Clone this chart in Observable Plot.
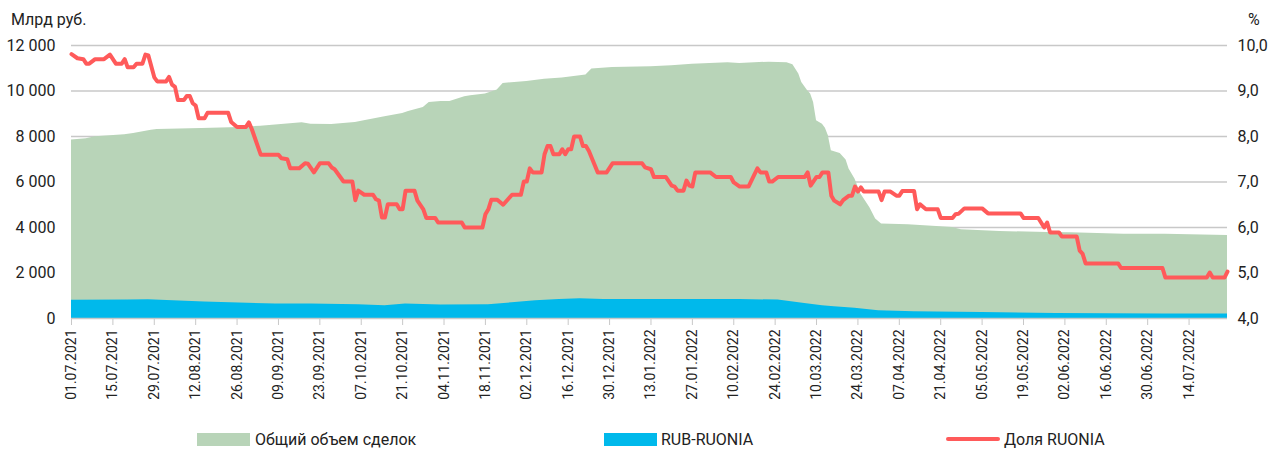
<!DOCTYPE html>
<html><head><meta charset="utf-8">
<script src="https://cdn.jsdelivr.net/npm/d3@7"></script>
<script src="https://cdn.jsdelivr.net/npm/@observablehq/plot@0.6"></script>
<style>
body{margin:0;background:#fff;font-family:Roboto,"DejaVu Sans",sans-serif;color:#222;}
#wrap{position:relative;width:1274px;height:450px;overflow:hidden;}
.ttl{position:absolute;font-size:16px;line-height:18px;white-space:nowrap;}
.leg{position:absolute;top:431px;font-size:16px;line-height:18px;white-space:nowrap;}
.sw{position:absolute;}
</style></head><body><div id="wrap"></div>
<script>
// ---- data ----
const tickLabels = ["01.07.2021","15.07.2021","29.07.2021","12.08.2021","26.08.2021","09.09.2021","23.09.2021","07.10.2021","21.10.2021","04.11.2021","18.11.2021","02.12.2021","16.12.2021","30.12.2021","13.01.2022","27.01.2022","10.02.2022","24.02.2022","10.03.2022","24.03.2022","07.04.2022","21.04.2022","05.05.2022","19.05.2022","02.06.2022","16.06.2022","30.06.2022","14.07.2022"];
const leftTicks = [0, 2000, 4000, 6000, 8000, 10000, 12000];
const rightTicks = [4, 5, 6, 7, 8, 9, 10];
const seriesNames = ["Общий объем сделок", "RUB-RUONIA", "Доля RUONIA"];
const leftUnit = "Млрд руб.";
const rightUnit = "%";
const dateRange = ["2021-07-01", "2022-07-27"];

// Общий объем сделок, млрд руб.
const totalVolume = [
["2021-07-01",7842],["2021-07-06",7900],["2021-07-09",7988],["2021-07-19",8075],["2021-07-22",8133],["2021-07-28",8280],["2021-07-30",8310],
["2021-08-14",8352],["2021-08-27",8396],["2021-09-03",8455],["2021-09-09",8514],["2021-09-17",8600],["2021-09-20",8543],["2021-09-27",8530],
["2021-10-05",8615],["2021-10-08",8690],["2021-10-15",8867],["2021-10-21",9012],["2021-10-23",9100],["2021-10-28",9276],["2021-10-30",9496],
["2021-11-03",9540],["2021-11-06",9540],["2021-11-11",9746],["2021-11-13",9790],["2021-11-18",9864],["2021-11-22",10040],["2021-11-24",10330],
["2021-12-02",10419],["2021-12-08",10522],["2021-12-14",10566],["2021-12-22",10698],["2021-12-24",10962],["2021-12-31",11034],["2022-01-13",11064],
["2022-01-20",11108],["2022-01-27",11181],["2022-02-08",11240],["2022-02-12",11210],["2022-02-22",11269],["2022-02-28",11240],["2022-03-02",11152],
["2022-03-04",10743],["2022-03-05",10375],["2022-03-07",10010],["2022-03-08",9864],["2022-03-09",9496],["2022-03-10",8690],["2022-03-12",8543],
["2022-03-13",8367],["2022-03-14",8031],["2022-03-15",7372],["2022-03-18",7254],["2022-03-20",6963],["2022-03-21",6568],["2022-03-23",6128],
["2022-03-25",5469],["2022-03-28",4880],["2022-03-30",4370],["2022-04-01",4150],["2022-04-10",4119],["2022-04-21",4031],["2022-04-25",4001],
["2022-04-28",3899],["2022-05-11",3825],["2022-05-27",3781],["2022-06-04",3770],["2022-06-22",3708],["2022-07-06",3700],["2022-07-27",3649]
];

// RUB-RUONIA, млрд руб.
const rubRuonia = [
["2021-07-01",800],["2021-07-20",810],["2021-07-27",822],["2021-08-15",720],["2021-09-08",640],["2021-09-20",640],["2021-10-06",600],
["2021-10-15",560],["2021-10-22",633],["2021-11-03",590],["2021-11-19",600],["2021-11-27",690],["2021-12-05",778],["2021-12-13",835],
["2021-12-20",870],["2021-12-28",835],["2022-01-10",835],["2022-01-27",835],["2022-02-12",835],["2022-02-25",809],["2022-03-06",660],
["2022-03-12",560],["2022-03-16",514],["2022-03-23",450],["2022-03-31",338],["2022-04-12",300],["2022-05-05",264],["2022-05-30",220],
["2022-07-05",193],["2022-07-27",193]
];

// Доля RUONIA, %
const ruoniaShare = [
["2021-07-01",9.81],["2021-07-03",9.72],["2021-07-05",9.70],["2021-07-06",9.60],["2021-07-07",9.60],["2021-07-09",9.70],["2021-07-12",9.70],
["2021-07-14",9.80],["2021-07-16",9.60],["2021-07-18",9.60],["2021-07-19",9.70],["2021-07-20",9.52],["2021-07-22",9.52],["2021-07-23",9.60],
["2021-07-25",9.60],["2021-07-26",9.80],["2021-07-27",9.78],["2021-07-29",9.30],["2021-07-30",9.21],["2021-08-02",9.21],["2021-08-03",9.31],
["2021-08-04",9.14],["2021-08-05",9.09],["2021-08-06",8.80],["2021-08-08",8.80],["2021-08-09",8.89],["2021-08-10",8.89],["2021-08-11",8.73],
["2021-08-12",8.68],["2021-08-13",8.40],["2021-08-15",8.40],["2021-08-16",8.52],["2021-08-23",8.52],["2021-08-24",8.32],["2021-08-26",8.21],
["2021-08-29",8.21],["2021-08-30",8.31],["2021-08-31",8.16],["2021-09-03",7.60],["2021-09-09",7.60],["2021-09-10",7.52],["2021-09-12",7.50],
["2021-09-13",7.30],["2021-09-16",7.30],["2021-09-18",7.41],["2021-09-19",7.40],["2021-09-21",7.21],["2021-09-23",7.41],["2021-09-26",7.41],
["2021-09-27",7.32],["2021-09-28",7.28],["2021-10-01",7.01],["2021-10-04",7.01],["2021-10-05",6.60],["2021-10-06",6.81],["2021-10-08",6.72],
["2021-10-11",6.72],["2021-10-12",6.62],["2021-10-13",6.59],["2021-10-14",6.22],["2021-10-15",6.22],["2021-10-16",6.51],["2021-10-19",6.51],
["2021-10-20",6.40],["2021-10-21",6.40],["2021-10-22",6.81],["2021-10-25",6.81],["2021-10-26",6.59],["2021-10-28",6.40],["2021-10-29",6.21],
["2021-11-01",6.21],["2021-11-02",6.11],["2021-11-10",6.11],["2021-11-11",6.00],["2021-11-17",6.00],["2021-11-18",6.29],["2021-11-19",6.40],
["2021-11-20",6.61],["2021-11-22",6.61],["2021-11-24",6.50],["2021-11-27",6.72],["2021-11-30",6.72],["2021-12-01",7.01],["2021-12-02",7.01],
["2021-12-03",7.30],["2021-12-04",7.21],["2021-12-07",7.21],["2021-12-08",7.61],["2021-12-09",7.79],["2021-12-10",7.79],["2021-12-11",7.61],
["2021-12-13",7.61],["2021-12-14",7.72],["2021-12-15",7.61],["2021-12-16",7.72],["2021-12-17",7.72],["2021-12-18",8.00],["2021-12-20",8.00],
["2021-12-21",7.79],["2021-12-22",7.79],["2021-12-23",7.68],["2021-12-26",7.21],["2021-12-29",7.21],["2021-12-31",7.41],["2022-01-10",7.41],
["2022-01-11",7.32],["2022-01-13",7.28],["2022-01-14",7.11],["2022-01-18",7.11],["2022-01-20",6.92],["2022-01-21",6.90],["2022-01-22",6.81],
["2022-01-24",6.81],["2022-01-25",7.03],["2022-01-26",6.92],["2022-01-27",6.90],["2022-01-28",7.21],["2022-02-02",7.21],["2022-02-04",7.11],
["2022-02-09",7.11],["2022-02-10",6.99],["2022-02-12",6.90],["2022-02-15",6.90],["2022-02-17",7.17],["2022-02-18",7.30],["2022-02-19",7.21],
["2022-02-21",7.21],["2022-02-22",7.01],["2022-02-23",7.01],["2022-02-25",7.11],["2022-03-06",7.11],["2022-03-07",7.21],["2022-03-08",6.92],
["2022-03-10",7.11],["2022-03-11",7.11],["2022-03-12",7.21],["2022-03-14",7.21],["2022-03-15",6.70],["2022-03-16",6.59],["2022-03-18",6.51],
["2022-03-19",6.60],["2022-03-21",6.70],["2022-03-22",6.70],["2022-03-23",6.90],["2022-03-24",6.79],["2022-03-25",6.88],["2022-03-26",6.79],
["2022-03-31",6.79],["2022-04-01",6.60],["2022-04-02",6.79],["2022-04-04",6.79],["2022-04-06",6.70],["2022-04-07",6.70],["2022-04-08",6.80],
["2022-04-12",6.80],["2022-04-13",6.40],["2022-04-14",6.51],["2022-04-16",6.40],["2022-04-20",6.40],["2022-04-21",6.21],["2022-04-25",6.21],
["2022-04-26",6.29],["2022-04-27",6.30],["2022-04-29",6.42],["2022-05-05",6.42],["2022-05-07",6.31],["2022-05-18",6.31],["2022-05-19",6.21],
["2022-05-24",6.21],["2022-05-26",6.00],["2022-05-27",6.11],["2022-05-28",5.89],["2022-05-31",5.89],["2022-06-01",5.80],["2022-06-06",5.80],
["2022-06-07",5.49],["2022-06-08",5.42],["2022-06-09",5.21],["2022-06-20",5.21],["2022-06-21",5.11],["2022-07-05",5.11],["2022-07-06",4.90],
["2022-07-20",4.90],["2022-07-21",5.01],["2022-07-22",4.90],["2022-07-26",4.90],["2022-07-27",5.03]
];

// ---- build ----
const parse = d3.utcParse("%Y-%m-%d");
const parseTick = d3.utcParse("%d.%m.%Y");
const toRows = arr => arr.map(([d, v]) => ({date: parse(d), value: v}));
const totalRows = toRows(totalVolume);
const rubRows = toRows(rubRuonia);
const shareRows = toRows(ruoniaShare);
const tickDates = tickLabels.map(parseTick);

// right axis (%) mapped onto left axis scale
const pMin = rightTicks[0], pMax = rightTicks[rightTicks.length - 1];
const vMax = leftTicks[leftTicks.length - 1];
const pctToLeft = p => (p - pMin) / (pMax - pMin) * vMax;
const leftToPct = v => pMin + v / vMax * (pMax - pMin);

const C_GREEN = "#b8d4b8", C_BLUE = "#00b9eb", C_RED = "#ff5a5a", C_GRID = "#c8c8c8";
const fmtLeft = d3.formatLocale({decimal: ",", thousands: "\u00a0", grouping: [3], currency: ["", ""]}).format(",d");

const chart = Plot.plot({
  width: 1274,
  height: 410,
  marginLeft: 71,
  marginRight: 47,
  marginTop: 45,
  marginBottom: 92,
  style: {fontFamily: "Roboto, sans-serif", fontSize: "16px", color: "#222", background: "transparent", overflow: "visible"},
  x: {type: "utc", domain: dateRange.map(parse)},
  y: {domain: [0, vMax]},
  marks: [
    Plot.gridY(leftTicks.slice(1), {stroke: C_GRID, strokeOpacity: 1, strokeWidth: 1.3}),
    Plot.areaY(totalRows, {x: "date", y: "value", fill: C_GREEN}),
    Plot.areaY(rubRows, {x: "date", y: "value", fill: C_BLUE}),
    Plot.ruleY([0], {stroke: C_GRID, strokeWidth: 1.3}),
    Plot.lineY(shareRows, {x: "date", y: d => pctToLeft(d.value), stroke: C_RED, strokeWidth: 4, strokeLinejoin: "round", strokeLinecap: "round"}),
    Plot.axisY(leftTicks, {anchor: "left", tickSize: 0, tickPadding: 16, tickFormat: fmtLeft, label: null, fontSize: 16, fill: "#222"}),
    Plot.axisY(rightTicks.map(pctToLeft), {anchor: "right", tickSize: 0, tickPadding: 10, tickFormat: v => leftToPct(v).toFixed(1).replace(".", ","), label: null, fontSize: 16, fill: "#222"}),
    Plot.axisX(tickDates, {tickRotate: -90, tickFormat: d3.utcFormat("%d.%m.%Y"), tickSize: 7, tickPadding: 4, stroke: C_GRID, fill: "#222", fontSize: 14, label: null})
  ]
});

const wrap = document.getElementById("wrap");
wrap.appendChild(chart);
chart.style.position = "absolute";
chart.style.left = "0px";
chart.style.top = "0px";

function addDiv(cls, css, text) {
  const el = document.createElement("div");
  el.className = cls;
  el.style.cssText = css;
  if (text != null) el.textContent = text;
  wrap.appendChild(el);
  return el;
}
addDiv("ttl", "left:11px;top:11px;", leftUnit);
addDiv("ttl", "left:1248px;top:11px;", rightUnit);
// legend
addDiv("sw", `left:197px;top:433px;width:53px;height:13px;background:${C_GREEN};`);
addDiv("leg", "left:255px;", seriesNames[0]);
addDiv("sw", `left:604px;top:433px;width:53px;height:13px;background:${C_BLUE};`);
addDiv("leg", "left:661px;", seriesNames[1]);
addDiv("sw", `left:946px;top:437px;width:54px;height:4px;border-radius:2px;background:${C_RED};`);
addDiv("leg", "left:1004px;", seriesNames[2]);
</script></body></html>
